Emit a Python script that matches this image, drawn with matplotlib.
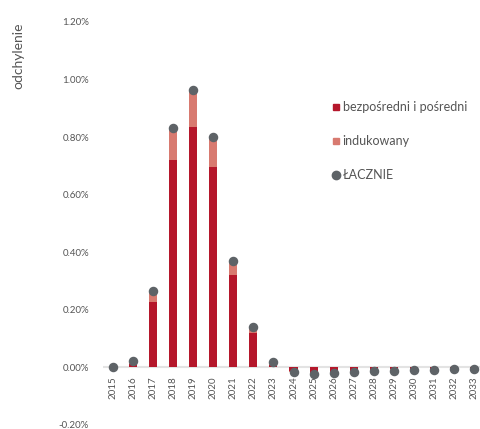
import matplotlib
matplotlib.use("Agg")
import matplotlib.pyplot as plt
from matplotlib.lines import Line2D
from matplotlib.transforms import ScaledTranslation
import numpy as np

years = [str(y) for y in range(2015, 2034)]
direct = [0.000, 0.012, 0.228, 0.722, 0.834, 0.695, 0.321, 0.120, 0.008,
          -0.012, -0.018, -0.015, -0.012, -0.009, -0.007, -0.006, -0.005, -0.004, -0.003]
induced = [0.000, 0.010, 0.037, 0.111, 0.130, 0.106, 0.047, 0.021, 0.012,
           -0.004, -0.004, -0.003, -0.003, -0.004, -0.005, -0.004, -0.004, -0.003, -0.002]
total = [0.000, 0.022, 0.265, 0.833, 0.964, 0.801, 0.368, 0.141, 0.020,
         -0.016, -0.022, -0.018, -0.015, -0.013, -0.012, -0.010, -0.009, -0.007, -0.005]
yticks = [-0.2, 0.0, 0.2, 0.4, 0.6, 0.8, 1.0, 1.2]

c_direct = "#B5172B"
c_induced = "#D87A70"
c_total = "#5E6367"
c_text = "#555555"
plt.rcParams["font.family"] = ["Lato", "DejaVu Sans"]

fig = plt.figure(figsize=(4.81, 4.29), dpi=100)
ax = fig.add_axes([103 / 481, 4 / 429, 1 - 103 / 481, 403 / 429])

x = np.arange(len(years))
d = np.array(direct)
i = np.array(induced)
# induced stacks on top of direct, on the same side of zero
ax.bar(x, d, width=0.4, color=c_direct, zorder=2)
ax.bar(x, i, width=0.4, bottom=d, color=c_induced, zorder=2)
ax.axhline(0, color="#E3E3E3", lw=1.5, zorder=1)
ax.scatter(x, total, s=34, color=c_total, zorder=3)

ax.set_xlim(-0.5, 18.35)
ax.set_ylim(-0.2, 1.2)
ax.set_yticks(yticks)
ax.set_yticklabels([f"{v:.2f}%" for v in yticks])
ax.set_xticks([])
ax.tick_params(axis="y", length=0, pad=10, labelsize=7, labelcolor=c_text)

# year labels hang just below the zero line
offset = ScaledTranslation(0, -9 / 100, fig.dpi_scale_trans)
for xi, yr in zip(x, years):
    ax.text(xi, 0, yr, rotation=90, ha="center", va="top", fontsize=7,
            color=c_text, transform=ax.transData + offset)

for s in ax.spines.values():
    s.set_visible(False)

fig.text(18 / 481, 1 - 56 / 429, "odchylenie", rotation=90, ha="center", va="center",
         fontsize=10, color=c_text)

handles = [
    Line2D([], [], marker="s", ls="none", color=c_direct, markersize=4.5),
    Line2D([], [], marker="s", ls="none", color=c_induced, markersize=4.5),
    Line2D([], [], marker="o", ls="none", color=c_total, markersize=6),
]
labels = ["bezpośredni i pośredni", "indukowany", "ŁACZNIE"]
fig.legend(handles, labels, loc="upper left", bbox_to_anchor=(327 / 481, 1 - 95 / 429),
           frameon=False, fontsize=9, labelcolor=c_text, handlelength=0.5,
           handletextpad=0.25, labelspacing=1.75, borderpad=0)

fig.savefig("out.png", dpi=100)
